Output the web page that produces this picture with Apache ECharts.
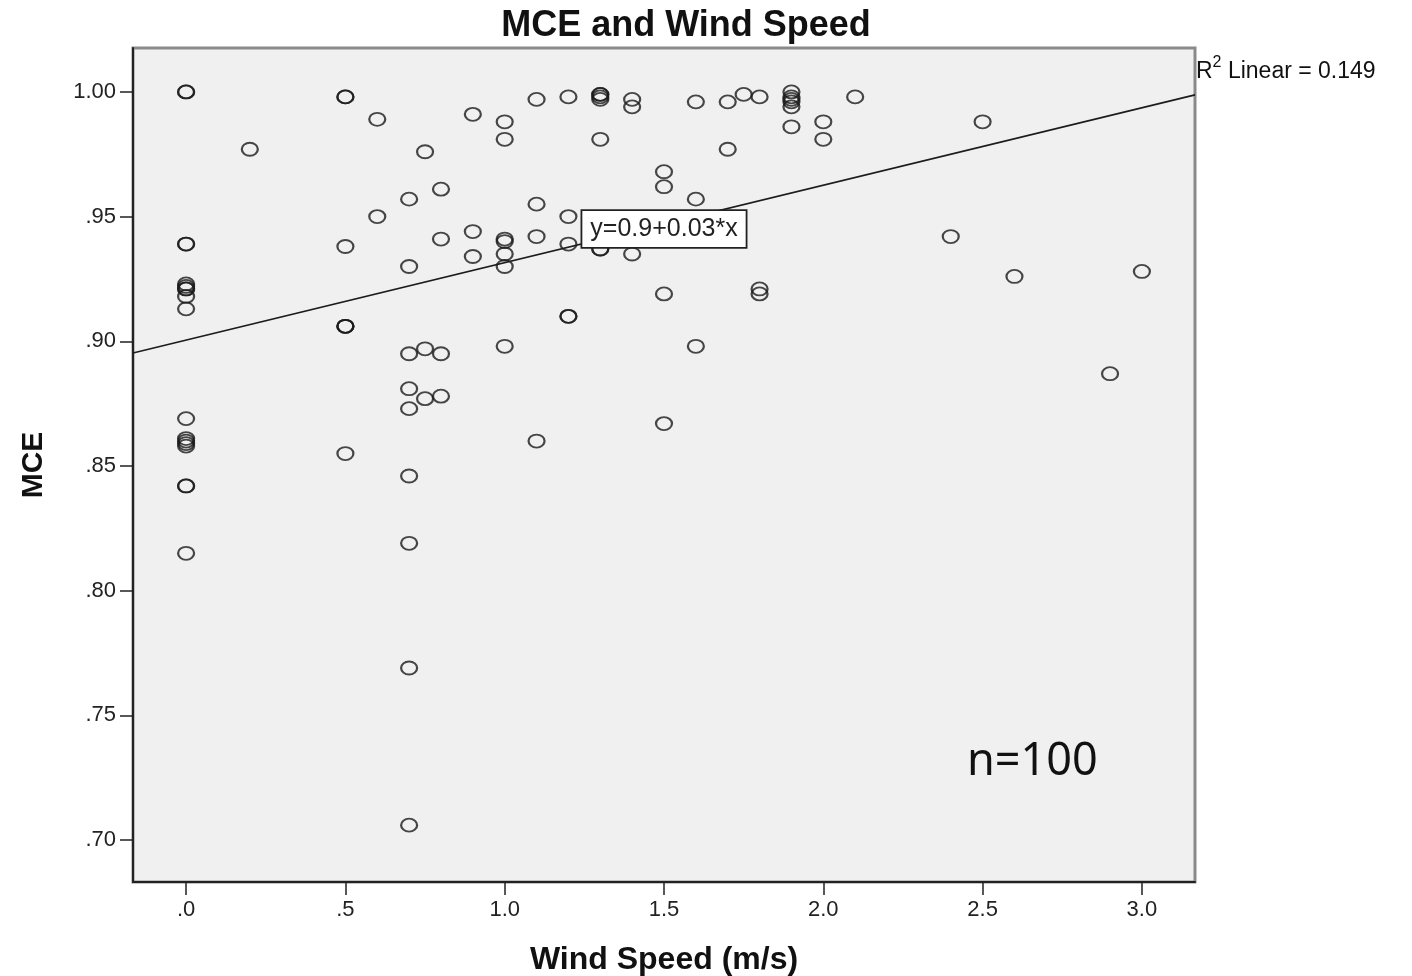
<!DOCTYPE html>
<html>
<head>
<meta charset="utf-8">
<script src="https://cdn.jsdelivr.net/npm/echarts@6/dist/echarts.min.js"></script>
<style>
html,body{margin:0;padding:0;background:#fff;}
#chart{width:1412px;height:976px;}
</style>
</head>
<body>
<div id="chart"></div>
<script>
// Wind speed (m/s) of each observation
const windSpeed = [
  0,0,0,0,0,0,0,0,0,0,0,0,0,0,0,0,0,0,
  0.2,
  0.5,0.5,0.5,0.5,0.5,0.5,0.5,
  0.6,0.6,
  0.7,0.7,0.7,0.7,0.7,0.7,0.7,0.7,0.7,
  0.75,0.75,0.75,
  0.8,0.8,0.8,0.8,
  0.9,0.9,0.9,
  1.0,1.0,1.0,1.0,1.0,1.0,1.0,
  1.1,1.1,1.1,1.1,
  1.2,1.2,1.2,1.2,1.2,
  1.3,1.3,1.3,1.3,1.3,1.3,1.3,
  1.4,1.4,1.4,
  1.5,1.5,1.5,1.5,
  1.6,1.6,1.6,
  1.7,1.7,
  1.75,
  1.8,1.8,1.8,
  1.9,1.9,1.9,1.9,1.9,1.9,
  2.0,2.0,
  2.1,
  2.4,
  2.5,
  2.6,
  2.9,
  3.0
];
// MCE of each observation (same order)
const mce = [
  1.000,1.000,0.939,0.939,0.923,0.922,0.921,0.921,0.918,0.913,0.869,0.861,0.860,0.859,0.858,0.842,0.842,0.815,
  0.977,
  0.998,0.998,0.938,0.906,0.906,0.906,0.855,
  0.989,0.950,
  0.957,0.930,0.895,0.881,0.873,0.846,0.819,0.769,0.706,
  0.976,0.897,0.877,
  0.961,0.941,0.895,0.878,
  0.991,0.944,0.934,
  0.988,0.981,0.941,0.940,0.935,0.930,0.898,
  0.997,0.955,0.942,0.860,
  0.998,0.950,0.939,0.910,0.910,
  0.999,0.999,0.998,0.997,0.981,0.937,0.937,
  0.997,0.994,0.935,
  0.968,0.962,0.919,0.867,
  0.996,0.957,0.898,
  0.996,0.977,
  0.999,
  0.998,0.921,0.919,
  1.000,0.998,0.997,0.996,0.994,0.986,
  0.988,0.981,
  0.998,
  0.942,
  0.988,
  0.926,
  0.887,
  0.928
];
// Fit line end points (x at the axis ends)
const fitLineX = [-1/6, 19/6];
const fitLineY = [0.8953, 0.9988];
const fitLabelAt = [1.5, 0.945];
const xTicks = [0, 0.5, 1.0, 1.5, 2.0, 2.5, 3.0];
const yTicks = [0.70, 0.75, 0.80, 0.85, 0.90, 0.95, 1.00];
const xRange = [-1/6, 19/6];
const yRange = [0.6832, 1.0176];

const points = windSpeed.map((x, i) => [x, mce[i]]);
const fitLine = fitLineX.map((x, i) => [x, fitLineY[i]]);

const chart = echarts.init(document.getElementById('chart'), null, {renderer: 'canvas'});
const tickFont = {fontFamily: 'Liberation Sans', fontSize: 22, color: '#222'};
chart.setOption({
  animation: false,
  backgroundColor: '#ffffff',
  title: {
    text: 'MCE and Wind Speed',
    left: 681, top: 3, textAlign: 'center',
    textStyle: {fontFamily: 'Liberation Sans', fontWeight: 'bold', fontSize: 36, color: '#111'}
  },
  grid: {
    left: 133, right: 217, top: 48, bottom: 94,
    outerBoundsMode: 'none', containLabel: false,
    show: true, backgroundColor: '#f0f0f0', borderColor: '#8a8a8a', borderWidth: 3
  },
  xAxis: {
    type: 'value', min: xRange[0], max: xRange[1],
    name: 'Wind Speed (m/s)', nameLocation: 'middle', nameGap: 62,
    nameTextStyle: {fontFamily: 'Liberation Sans', fontWeight: 'bold', fontSize: 32, color: '#111'},
    axisLine: {show: true, onZero: false, lineStyle: {color: '#222', width: 2}},
    axisTick: {show: true, length: 13, lineStyle: {color: '#222', width: 1.5}, customValues: xTicks},
    axisLabel: {show: true, margin: 17, customValues: xTicks, ...tickFont,
      formatter: v => Number(v).toFixed(1).replace(/^0/, '')},
    splitLine: {show: false}
  },
  yAxis: {
    type: 'value', min: yRange[0], max: yRange[1],
    name: 'MCE', nameLocation: 'middle', nameGap: 84, nameRotate: 90,
    nameTextStyle: {fontFamily: 'Liberation Sans', fontWeight: 'bold', fontSize: 30, color: '#111'},
    axisLine: {show: true, onZero: false, lineStyle: {color: '#222', width: 2}},
    axisTick: {show: true, length: 13, lineStyle: {color: '#222', width: 1.5}, customValues: yTicks},
    axisLabel: {show: true, margin: 17, customValues: yTicks, ...tickFont,
      formatter: v => Number(v).toFixed(2).replace(/^0/, '')},
    splitLine: {show: false}
  },
  series: [
    {
      type: 'scatter', data: points, symbol: 'circle', symbolSize: [16, 13],
      itemStyle: {color: 'rgba(0,0,0,0)', borderColor: '#1a1a1a', borderWidth: 2},
      z: 3
    },
    {
      type: 'line', data: fitLine, symbol: 'none', clip: true,
      lineStyle: {color: '#1c1c1c', width: 1.6}, z: 4,
      markPoint: {
        symbol: 'rect', symbolSize: 1, itemStyle: {color: 'rgba(0,0,0,0)'},
        data: [{coord: fitLabelAt}],
        label: {
          show: true, position: 'inside', formatter: 'y=0.9+0.03*x',
          fontFamily: 'Liberation Sans', fontSize: 25, color: '#222',
          backgroundColor: '#ffffff', borderColor: '#222', borderWidth: 1.8,
          padding: [6, 8, 5, 8]
        },
        z: 6
      }
    }
  ],
  graphic: [{
    type: 'text', left: 1196, top: 55,
    style: {
      text: '{r|R}{s|2}{r| Linear = 0.149}',
      rich: {
        r: {fontFamily: 'Liberation Sans', fontSize: 23, fill: '#111', verticalAlign: 'bottom'},
        s: {fontFamily: 'Liberation Sans', fontSize: 16, fill: '#111', verticalAlign: 'top', padding: [0,0,12,0]}
      }
    }
  }, {
    type: 'text', left: 967, top: 740,
    style: {text: 'n=100', fontFamily: 'Noto Sans', fontSize: 45, fill: '#111'}
  }]
});
</script>
</body>
</html>
